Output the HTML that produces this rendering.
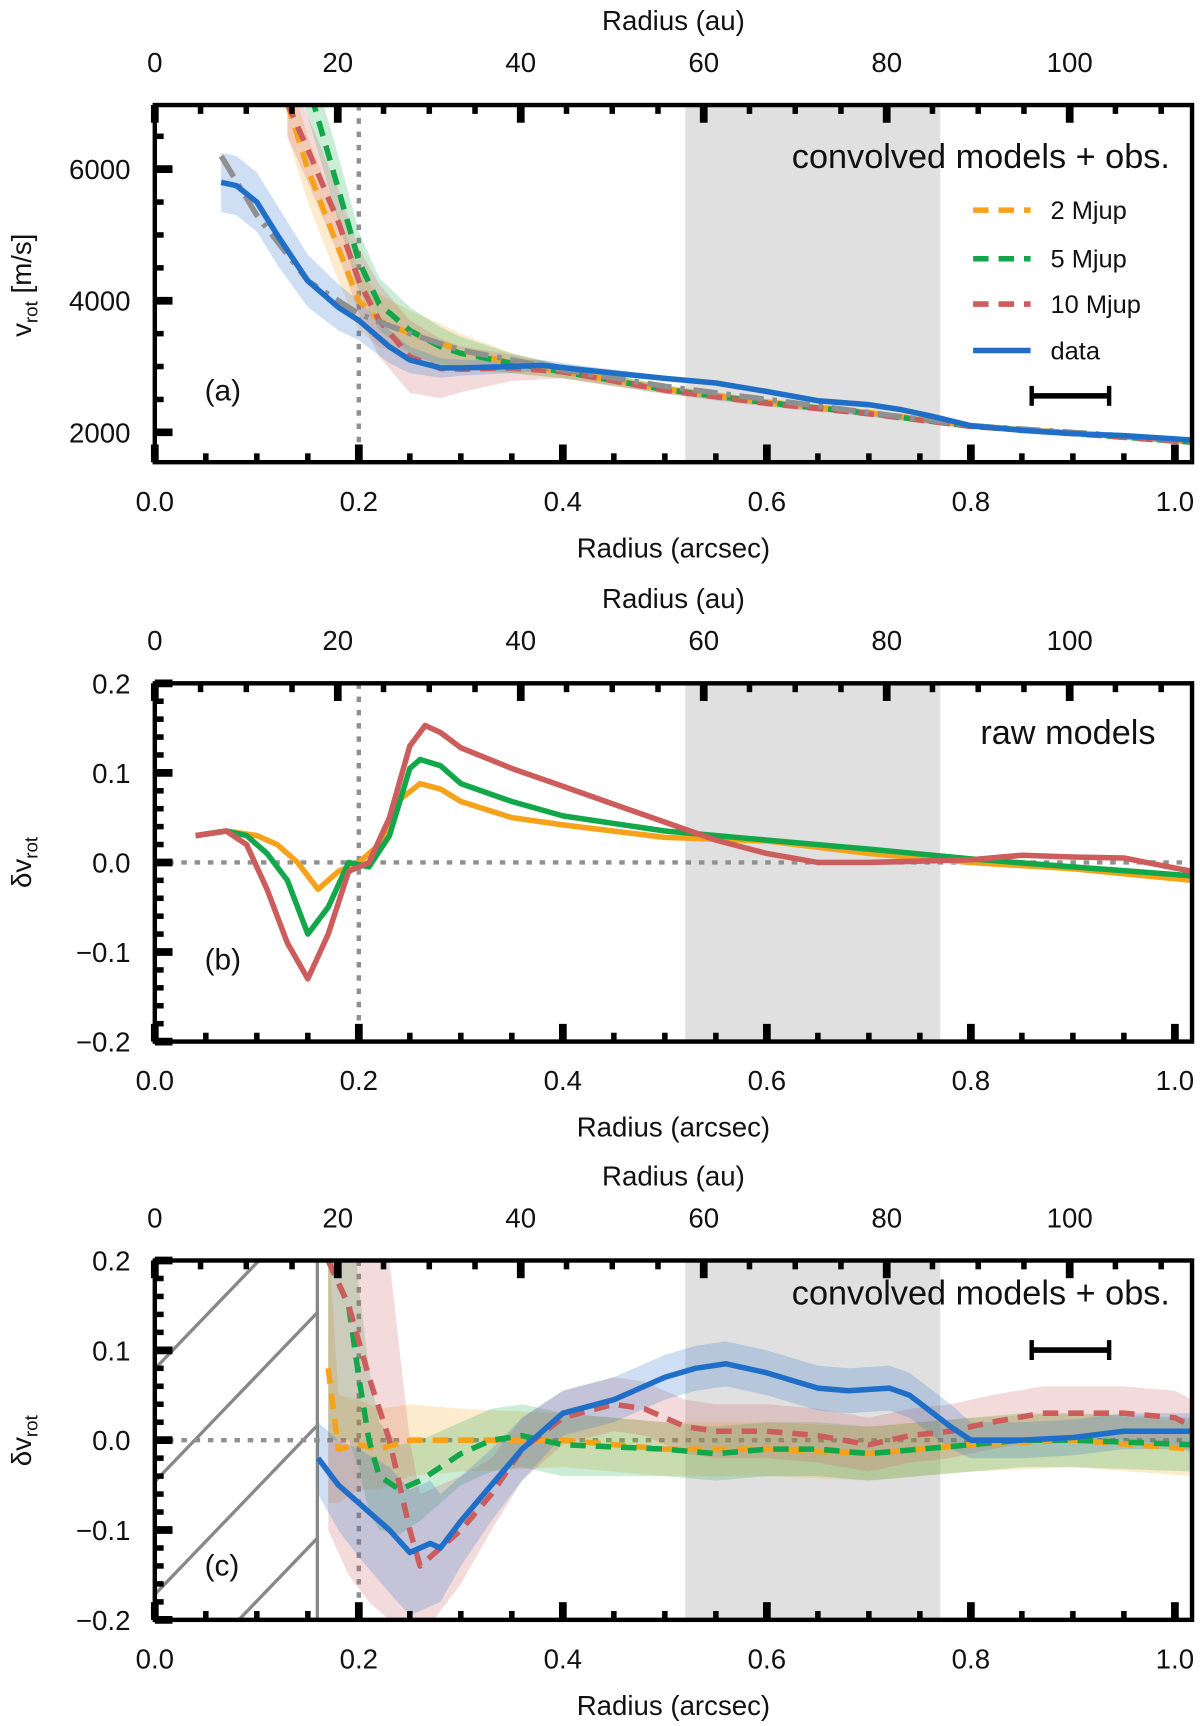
<!DOCTYPE html>
<html><head><meta charset="utf-8"><style>
html,body{margin:0;padding:0;background:#fff;width:1200px;height:1726px;overflow:hidden}
svg{display:block}
text{font-family:"Liberation Sans",sans-serif;fill:#111}
</style></head><body>
<svg id="fig" width="1200" height="1726" viewBox="0 0 1085.2 1561" preserveAspectRatio="none" xmlns="http://www.w3.org/2000/svg"></svg>
<script>
// ---------- data ----------
const aDataX=[0.065,0.08,0.1,0.12,0.15,0.18,0.2,0.23,0.25,0.28,0.3,0.35,0.38,0.42,0.5,0.55,0.6,0.65,0.7,0.73,0.76,0.8,0.85,0.9,0.95,1.0,1.017];
const aDataY=[5800,5750,5500,5000,4300,3900,3700,3300,3100,2980,2980,3000,3020,2950,2820,2750,2620,2480,2420,2350,2250,2100,2030,1980,1950,1900,1880];
const aDataErr=[450,450,450,450,400,350,300,250,200,150,120,100,80,60,40,40,40,40,40,40,40,30,30,30,30,30,30];
const aKepX=[0.065,0.1,0.15,0.2,0.25,0.3,0.4,0.5,0.6,0.7,0.8,0.9,1.017];
const aKepY=[6200,5300,4300,3800,3500,3250,2950,2700,2500,2300,2100,2000,1870];
const aModX=[0.13,0.15,0.18,0.2,0.22,0.25,0.28,0.3,0.35,0.4,0.5,0.6,0.7,0.8,0.9,1.017];
const a2Y=[7000,6000,4800,4000,3700,3500,3350,3250,3050,2920,2660,2460,2300,2100,1990,1850];
const a5Y=[8200,7300,5700,4600,3950,3550,3300,3200,3050,2920,2650,2450,2290,2090,1985,1850];
const a10Y=[7000,6300,5200,4300,3700,3150,2970,2960,2980,2920,2640,2440,2280,2090,1980,1845];
const aModErr=[500,500,500,450,400,350,300,250,150,100,60,50,40,40,30,30];
const a10Err=[500,500,500,500,550,550,450,350,200,100,60,50,40,40,30,30];
const b2X=[0.04,0.07,0.1,0.12,0.14,0.16,0.18,0.2,0.22,0.24,0.26,0.28,0.3,0.35,0.4,0.5,0.6,0.7,0.8,0.9,1.017];
const b2Y=[0.03,0.035,0.03,0.02,0.0,-0.03,-0.01,0.0,0.02,0.07,0.088,0.082,0.068,0.05,0.042,0.028,0.024,0.01,0.0,-0.007,-0.02];
const b5X=[0.04,0.07,0.09,0.11,0.13,0.15,0.17,0.19,0.21,0.23,0.25,0.26,0.28,0.3,0.35,0.4,0.5,0.6,0.7,0.8,0.9,1.017];
const b5Y=[0.03,0.035,0.03,0.01,-0.02,-0.08,-0.05,0.0,-0.005,0.03,0.105,0.115,0.108,0.088,0.068,0.052,0.035,0.025,0.015,0.004,-0.005,-0.015];
const b10X=[0.04,0.07,0.09,0.11,0.13,0.15,0.17,0.19,0.21,0.23,0.25,0.265,0.28,0.3,0.35,0.4,0.45,0.5,0.55,0.6,0.65,0.7,0.8,0.85,0.9,0.95,1.017];
const b10Y=[0.03,0.035,0.02,-0.03,-0.09,-0.13,-0.08,-0.01,0.0,0.05,0.13,0.153,0.145,0.128,0.105,0.085,0.065,0.045,0.025,0.01,0.0,0.0,0.003,0.008,0.006,0.005,-0.01];
const cBlueX=[0.16,0.18,0.2,0.23,0.25,0.27,0.28,0.3,0.33,0.36,0.38,0.4,0.45,0.5,0.53,0.56,0.6,0.65,0.68,0.72,0.74,0.78,0.8,0.85,0.9,0.95,1.017];
const cBlueY=[-0.02,-0.05,-0.07,-0.1,-0.125,-0.115,-0.12,-0.09,-0.05,-0.01,0.01,0.03,0.045,0.07,0.08,0.085,0.075,0.058,0.055,0.058,0.05,0.015,0.0,0.0,0.003,0.01,0.01];
const cBlueErr=[0.04,0.05,0.06,0.07,0.07,0.07,0.06,0.05,0.04,0.035,0.03,0.025,0.025,0.025,0.025,0.025,0.025,0.025,0.025,0.025,0.025,0.025,0.02,0.02,0.02,0.02,0.02];
const cRedX=[0.17,0.19,0.21,0.23,0.25,0.26,0.28,0.3,0.33,0.36,0.4,0.45,0.48,0.52,0.55,0.6,0.65,0.7,0.74,0.78,0.82,0.87,0.9,0.95,1.0,1.017];
const cRedY=[0.2,0.15,0.07,0.0,-0.1,-0.14,-0.12,-0.1,-0.06,-0.01,0.025,0.04,0.035,0.015,0.01,0.01,0.005,-0.005,0.005,0.01,0.02,0.03,0.03,0.03,0.025,0.015];
const cRedErr=[0.3,0.3,0.25,0.2,0.1,0.08,0.07,0.06,0.04,0.035,0.03,0.03,0.03,0.03,0.03,0.03,0.03,0.03,0.03,0.03,0.03,0.03,0.03,0.03,0.03,0.03];
const cGreenX=[0.17,0.19,0.2,0.21,0.22,0.24,0.26,0.28,0.3,0.33,0.36,0.4,0.5,0.55,0.6,0.65,0.7,0.75,0.8,0.85,0.9,1.017];
const cGreenY=[0.2,0.15,0.07,0.0,-0.04,-0.055,-0.045,-0.03,-0.015,0.0,0.005,-0.005,-0.01,-0.015,-0.01,-0.01,-0.015,-0.01,-0.005,0.0,0.0,-0.005];
const cGreenErr=[0.2,0.15,0.1,0.08,0.06,0.05,0.045,0.04,0.035,0.035,0.035,0.035,0.03,0.03,0.03,0.03,0.03,0.03,0.03,0.03,0.03,0.03];
const cOrX=[0.17,0.18,0.2,0.22,0.25,0.3,0.4,0.5,0.6,0.7,0.8,0.9,1.017];
const cOrY=[0.08,-0.01,-0.005,-0.01,0.0,0.0,0.0,-0.01,-0.01,-0.015,-0.005,0.0,-0.01];
const cOrErr=[0.15,0.06,0.05,0.045,0.04,0.035,0.03,0.03,0.03,0.03,0.03,0.03,0.03];
const xTicks=["0.0","0.2","0.4","0.6","0.8","1.0"];
const auTicks=["0","20","40","60","80","100"];
const aYTicks=["2000","4000","6000"];
const dTicks=["−0.2","−0.1","0.0","0.1","0.2"];

// ---------- helpers ----------
const NS="http://www.w3.org/2000/svg";
const svg=document.getElementById('fig');
function mk(tag,parent,name,inter){
  const e=document.createElementNS(NS,tag);
  
  
  parent.appendChild(e);return e;
}
function at(e,o){for(const k in o)e.setAttribute(k,o[k]);return e;}
const C={or:'#f6a21a',gr:'#12a84a',rd:'#cd5c5c',bl:'#1f6fc8',gy:'#909090'};
const L=140,R=1078,AU=111.5;
const sx=v=>L+v*922.5;

function panel(id,top,bot,ymin,ymax,yTicks,yVals,minorStep){
  const g=mk('g',svg,'panel-'+id,false);
  const sy=v=>bot-(v-ymin)/(ymax-ymin)*(bot-top);
  const cid='clip'+id;
  const cp=mk('clipPath',g,'clip-'+id,false);cp.setAttribute('id',cid);
  at(mk('rect',cp,'clip-rect',false),{x:L,y:top,width:R-L,height:bot-top});
  const pl=mk('g',g,'plot-area-'+id,false);pl.setAttribute('clip-path','url(#'+cid+')');
  at(mk('rect',pl,'gap-shade',false),{x:sx(0.52),y:top,width:sx(0.77)-sx(0.52),height:bot-top,fill:'#e0e0e0'});
  const tk=mk('g',g,'ticks-'+id,false);
  for(let i=0;i<=20;i++){const v=i*0.05;const maj=i%4==0;const x=sx(v);
    at(mk('line',tk,'x-tick',false),{x1:x,x2:x,y1:bot,y2:bot-(maj?16:8),stroke:'#000','stroke-width':maj?7:5});}
  for(let a=0;a<=110;a+=5){const x=sx(a/AU);const maj=a%20==0;
    at(mk('line',tk,'au-tick',false),{x1:x,x2:x,y1:top,y2:top+(maj?16:8),stroke:'#000','stroke-width':maj?7:5});}
  for(let v=ymin-(ymin%minorStep);v<=ymax+1e-9;v+=minorStep){const y=sy(v);if(y<top||y>bot)continue;
    const maj=yVals.some(t=>Math.abs(t-v)<minorStep/10);
    at(mk('line',tk,'y-tick',false),{x1:L,x2:L+(maj?16:8),y1:y,y2:y,stroke:'#000','stroke-width':maj?7:5});}
  xTicks.forEach(t=>{const e=mk('text',g,'x-tick-label',false);at(e,{x:sx(+t),y:bot+44,'text-anchor':'middle','font-size':25});e.textContent=t;});
  auTicks.forEach(t=>{const e=mk('text',g,'au-tick-label',false);at(e,{x:sx(+t/AU),y:top-30,'text-anchor':'middle','font-size':25});e.textContent=t;});
  yTicks.forEach((t,i)=>{const e=mk('text',g,'y-tick-label',false);at(e,{x:L-22,y:sy(yVals[i])+9,'text-anchor':'end','font-size':25});e.textContent=t;});
  const xt=mk('text',g,'x-axis-title',false);at(xt,{x:609,y:bot+86,'text-anchor':'middle','font-size':25});xt.textContent='Radius (arcsec)';
  const at2=mk('text',g,'top-axis-title',false);at2.setAttribute('x',609);at2.setAttribute('y',top-68);at2.setAttribute('text-anchor','middle');at2.setAttribute('font-size',25);at2.textContent='Radius (au)';
  return {g,pl,sy,top,bot};
}
function pts(X,Y,sy){return X.map((x,i)=>sx(x).toFixed(1)+','+sy(Y[i]).toFixed(1)).join(' ');}
function band(p,X,Y,E,col,name){
  const up=X.map((x,i)=>sx(x).toFixed(1)+','+p.sy(Y[i]+E[i]).toFixed(1));
  const lo=X.map((x,i)=>sx(x).toFixed(1)+','+p.sy(Y[i]-E[i]).toFixed(1)).reverse();
  at(mk('polygon',p.pl,name,false),{points:up.concat(lo).join(' '),fill:col,'fill-opacity':0.22});
}
function line(p,X,Y,col,name,dash,w){
  const e=mk('polyline',p.pl,name,false);
  at(e,{points:pts(X,Y,p.sy),fill:'none',stroke:col,'stroke-width':w||5,'stroke-linejoin':'round'});
  if(dash)e.setAttribute('stroke-dasharray',dash);
}
function vdot(p,x){at(mk('line',p.pl,'planet-location-line',false),{x1:sx(x),x2:sx(x),y1:p.top,y2:p.bot,stroke:C.gy,'stroke-width':4,'stroke-dasharray':'5,7'});}
function hdot(p){at(mk('line',p.pl,'zero-line',false),{x1:L,x2:R,y1:p.sy(0),y2:p.sy(0),stroke:C.gy,'stroke-width':4,'stroke-dasharray':'5,7'});}
function frame(p){at(mk('rect',p.g,'plot-frame',false),{x:L,y:p.top,width:R-L,height:p.bot-p.top,fill:'none',stroke:'#000','stroke-width':4});}
function txt(p,s,x,y,name,anchor,fs){const e=mk('text',p.g,name,false);at(e,{x:x,y:y,'font-size':fs||27,'text-anchor':anchor||'start'});e.textContent=s;}
function beam(p,y){const g=mk('g',p.g,'beam-size-bar',false);
  at(mk('line',g,'beam-bar',false),{x1:933,x2:1003,y1:y,y2:y,stroke:'#000','stroke-width':5});
  at(mk('line',g,'beam-cap-left',false),{x1:933,x2:933,y1:y-9,y2:y+9,stroke:'#000','stroke-width':4});
  at(mk('line',g,'beam-cap-right',false),{x1:1003,x2:1003,y1:y-9,y2:y+9,stroke:'#000','stroke-width':4});}
const DASH='14,9';

// ---------- panel a ----------
const pa=panel('a',95,418,1546,6975,aYTicks,[2000,4000,6000],500);
vdot(pa,0.2);
band(pa,aModX,a2Y,aModErr,C.or,'band-2mjup');
band(pa,aModX,a5Y,aModErr,C.gr,'band-5mjup');
band(pa,aModX,a10Y,a10Err,C.rd,'band-10mjup');
band(pa,aDataX,aDataY,aDataErr,C.bl,'band-data');
line(pa,aModX,a2Y,C.or,'line-2mjup',DASH);
line(pa,aModX,a5Y,C.gr,'line-5mjup',DASH);
line(pa,aModX,a10Y,C.rd,'line-10mjup',DASH);
line(pa,aKepX,aKepY,C.gy,'keplerian-line','22,8,4,8',5);
line(pa,aDataX,aDataY,C.bl,'line-data',null,5);
frame(pa);
txt(pa,'convolved models + obs.',1058,152,'panel-a-title','end',31);
txt(pa,'(a)',185,362,'panel-a-label');
beam(pa,358);
const lg=mk('g',pa.g,'legend',false);
[['2 Mjup',C.or,190],['5 Mjup',C.gr,234],['10 Mjup',C.rd,275],['data',C.bl,317]].forEach(([s,c,y])=>{
  const e=mk('line',lg,'legend-swatch',false);at(e,{x1:880,x2:932,y1:y,y2:y,stroke:c,'stroke-width':5});
  if(s!=='data')e.setAttribute('stroke-dasharray','14,9');
  const t=mk('text',lg,'legend-entry',false);at(t,{x:950,y:y+8,'font-size':23});t.textContent=s;});
const yla=mk('text',svg,'y-axis-title-a',false);
at(yla,{transform:'translate(28,258) rotate(-90)','text-anchor':'middle','font-size':25});
yla.innerHTML='v<tspan font-size="17" dy="6">rot</tspan><tspan dy="-6"> [m/s]</tspan>';

// ---------- panel b ----------
const pb=panel('b',618,942,-0.2,0.2,dTicks,[-0.2,-0.1,0,0.1,0.2],0.02);
vdot(pb,0.2);hdot(pb);
line(pb,b2X,b2Y,C.or,'raw-2mjup');
line(pb,b5X,b5Y,C.gr,'raw-5mjup');
line(pb,b10X,b10Y,C.rd,'raw-10mjup');
frame(pb);
txt(pb,'raw models',1045,673,'panel-b-title','end',31);
txt(pb,'(b)',185,877,'panel-b-label');
const ylb=mk('text',svg,'y-axis-title-b',false);
at(ylb,{transform:'translate(28,780) rotate(-90)','text-anchor':'middle','font-size':25});
ylb.innerHTML='δv<tspan font-size="17" dy="6">rot</tspan>';

// ---------- panel c ----------
const pc=panel('c',1140,1465,-0.2,0.2,dTicks,[-0.2,-0.1,0,0.1,0.2],0.02);
const hg=mk('g',pc.pl,'masked-region',false);
for(let k=0;k<6;k++){const y0=1238+k*102;
  at(mk('line',hg,'hatch-line',false),{x1:140,y1:y0,x2:140+300,y2:y0-312,stroke:'#888','stroke-width':3});}
at(mk('rect',pc.pl,'mask-cover',false),{x:287,y:1140,width:R-287,height:325,fill:'#fff'});
at(mk('rect',pc.pl,'gap-shade',false),{x:sx(0.52),y:1140,width:sx(0.77)-sx(0.52),height:325,fill:'#e0e0e0'});
at(mk('line',pc.pl,'mask-edge',false),{x1:287,x2:287,y1:1140,y2:1465,stroke:'#888','stroke-width':3});
vdot(pc,0.2);hdot(pc);
band(pc,cOrX,cOrY,cOrErr,C.or,'band-2mjup');
band(pc,cGreenX,cGreenY,cGreenErr,C.gr,'band-5mjup');
band(pc,cRedX,cRedY,cRedErr,C.rd,'band-10mjup');
band(pc,cBlueX,cBlueY,cBlueErr,C.bl,'band-data');
line(pc,cOrX,cOrY,C.or,'resid-2mjup',DASH);
line(pc,cGreenX,cGreenY,C.gr,'resid-5mjup',DASH);
line(pc,cRedX,cRedY,C.rd,'resid-10mjup',DASH);
line(pc,cBlueX,cBlueY,C.bl,'resid-data');
frame(pc);
txt(pc,'convolved models + obs.',1058,1180,'panel-c-title','end',31);
txt(pc,'(c)',185,1425,'panel-c-label');
beam(pc,1221);
const ylc=mk('text',svg,'y-axis-title-c',false);
at(ylc,{transform:'translate(28,1303) rotate(-90)','text-anchor':'middle','font-size':25});
ylc.innerHTML='δv<tspan font-size="17" dy="6">rot</tspan>';
</script>
</body></html>
